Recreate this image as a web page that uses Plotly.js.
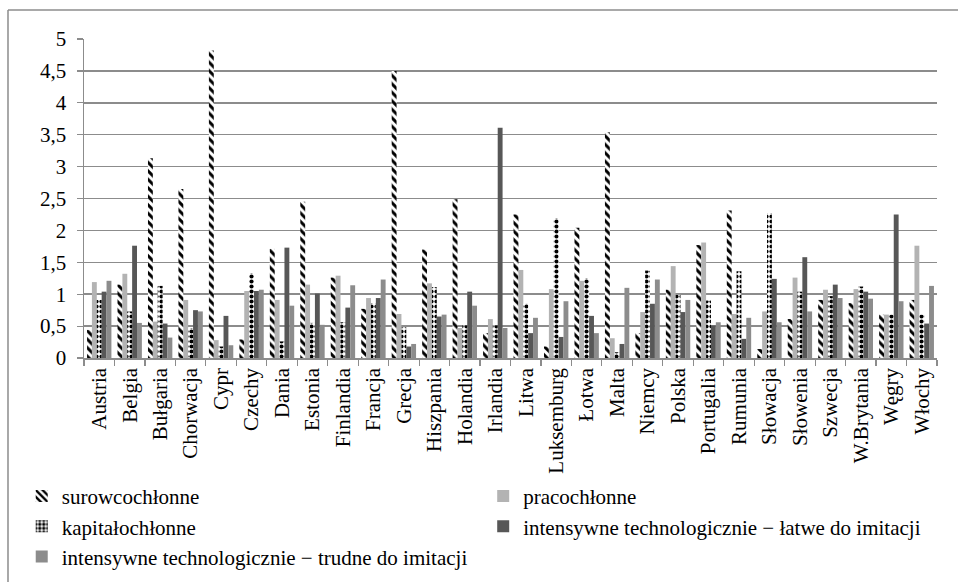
<!DOCTYPE html>
<html>
<head>
<meta charset="utf-8">
<script src="https://cdn.plot.ly/plotly-3.0.1.min.js"></script>
<style>
html,body{margin:0;padding:0;background:#fff;}
#chart{width:958px;height:582px;}
</style>
</head>
<body>
<div id="chart"></div>
<script>
const countries = ['Austria','Belgia','Bułgaria','Chorwacja','Cypr','Czechy','Dania','Estonia','Finlandia','Francja','Grecja','Hiszpania','Holandia','Irlandia','Litwa','Luksemburg','Łotwa','Malta','Niemcy','Polska','Portugalia','Rumunia','Słowacja','Słowenia','Szwecja','W.Brytania','Węgry','Włochy'];
const seriesNames = ['surowcochłonne','pracochłonne','kapitałochłonne','intensywne technologicznie \u2212 łatwe do imitacji','intensywne technologicznie \u2212 trudne do imitacji'];
const surowcochlonne = [0.44,1.15,3.13,2.65,4.82,0.29,1.71,2.45,1.26,0.77,4.50,1.70,2.49,0.39,2.25,0.18,2.04,3.54,0.39,1.07,1.77,2.31,0.14,0.61,0.91,0.86,0.68,0.91];
const pracochlonne = [1.19,1.32,0.57,0.91,0.28,1.05,0.91,1.15,1.29,0.94,0.69,1.17,0.47,0.61,1.38,1.08,1.21,0.31,0.72,1.44,1.81,0.69,0.73,1.26,1.07,1.08,0.68,1.76];
const kapitalochlonne = [0.91,0.73,1.13,0.47,0.18,1.33,0.26,0.55,0.56,0.86,0.48,1.11,0.51,0.51,0.85,2.19,1.25,0.09,1.37,0.99,0.90,1.36,2.27,1.04,0.97,1.12,0.68,0.68];
const latweDoImitacji = [1.04,1.76,0.54,0.75,0.66,1.05,1.73,1.01,0.79,0.94,0.18,0.65,1.04,3.61,0.39,0.33,0.66,0.22,0.85,0.72,0.51,0.30,1.24,1.58,1.15,1.04,2.25,0.54];
const trudneDoImitacji = [1.21,0.55,0.32,0.73,0.20,1.07,0.82,0.52,1.14,1.23,0.22,0.68,0.82,0.47,0.63,0.89,0.39,1.10,1.23,0.91,0.56,0.63,0.56,0.73,0.94,0.93,0.89,1.13];
const yTicks = [0,0.5,1,1.5,2,2.5,3,3.5,4,4.5,5];
const yTickText = ['0','0,5','1','1,5','2','2,5','3','3,5','4','4,5','5'];

const font = 'Liberation Serif';
function bar(y, name, marker, legend) {
  return {type:'bar', x:countries, y:y, name:name, marker:marker, legend:legend, hoverinfo:'x+y+name'};
}
const traces = [
  bar(surowcochlonne, seriesNames[0], {color:'#ffffff', line:{width:0}, pattern:{shape:'\\', fgcolor:'#000000', bgcolor:'#ffffff', size:6, solidity:0.5}}, 'legend'),
  bar(pracochlonne, seriesNames[1], {color:'#b3b3b3', line:{width:0}}, 'legend2'),
  bar(kapitalochlonne, seriesNames[2], {color:'#ffffff', line:{width:0}, pattern:{shape:'.', fgcolor:'#000000', bgcolor:'#ffffff', size:5, solidity:0.55}}, 'legend'),
  bar(latweDoImitacji, seriesNames[3], {color:'#575757', line:{width:0}}, 'legend2'),
  bar(trudneDoImitacji, seriesNames[4], {color:'#8c8c8c', line:{width:0}}, 'legend')
];
const legendBase = {orientation:'v', font:{family:font, size:21, color:'#000'}, bgcolor:'rgba(0,0,0,0)', yanchor:'top', xanchor:'left', traceorder:'normal', itemclick:false, itemwidth:30};
const layout = {
  width:958, height:582,
  margin:{l:84, r:21, t:39, b:224, autoexpand:false},
  paper_bgcolor:'#ffffff', plot_bgcolor:'#ffffff',
  font:{family:font, size:21, color:'#000'},
  separators:', ',
  barmode:'group', bargap:0.2, bargroupgap:0,
  showlegend:true,
  xaxis:{type:'category', automargin:false, showline:true, linecolor:'#8c8c8c', linewidth:1.5, ticks:'outside', tickson:'boundaries', ticklen:6, tickcolor:'#8c8c8c', tickwidth:1.2, tickangle:-90, tickfont:{family:font, size:21, color:'#000'}, showgrid:false},
  yaxis:{range:[0,5], automargin:false, tickvals:yTicks, ticktext:yTickText, showline:true, linecolor:'#8c8c8c', linewidth:1.5, ticks:'outside', ticklen:6, tickcolor:'#8c8c8c', tickwidth:1.2, gridcolor:'#8c8c8c', gridwidth:1.5, zeroline:false, tickfont:{family:font, size:21, color:'#000'}, ticklabelstandoff:6},
  legend: Object.assign({}, legendBase, {x:-0.073, y:-0.3695}),
  legend2: Object.assign({}, legendBase, {x:0.468, y:-0.3695}),
  shapes:[
    {type:'line', xref:'paper', yref:'paper', x0:-0.0891, x1:-0.0891, y0:1.091, y1:-0.75, line:{color:'#8c8c8c', width:1.5}},
    {type:'line', xref:'paper', yref:'paper', x0:-0.0891, x1:1.05, y0:1.091, y1:1.091, line:{color:'#8c8c8c', width:1.5}}
  ]
};
Plotly.newPlot('chart', traces, layout, {displayModeBar:false, staticPlot:true});
</script>
</body>
</html>
